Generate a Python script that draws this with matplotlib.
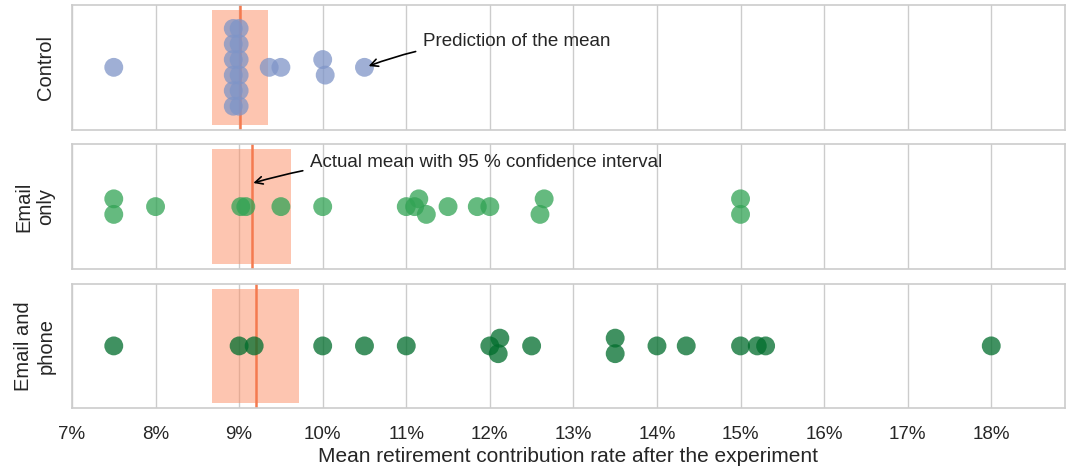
import numpy as np
import matplotlib
matplotlib.use("Agg")
import matplotlib.pyplot as plt
import seaborn as sns
from matplotlib.ticker import FuncFormatter

# --- data (percent) ---
groups = ["Control", "Email\nonly", "Email and\nphone"]

control = [7.5, 8.93, 8.93, 8.93, 8.93, 8.93, 8.93, 9.0, 9.0, 9.0, 9.0, 9.0, 9.0,
           9.36, 9.5, 10.0, 10.03, 10.5]
email_only = [7.5, 7.5, 8.0, 9.02, 9.08, 9.5, 10.0, 11.0, 11.1, 11.15, 11.24,
              11.5, 11.85, 12.0, 12.65, 12.6, 15.0, 15.0]
email_phone = [7.5, 9.0, 9.18, 10.0, 10.5, 11.0, 12.0, 12.12, 12.1, 12.5,
               13.5, 13.5, 14.0, 14.35, 15.0, 15.2, 15.3, 18.0]

means = [9.01, 9.15, 9.2]
ci_low = [8.68, 8.68, 8.68]
ci_high = [9.34, 9.62, 9.72]

point_colors = ["#7f95c8", "#31a354", "#006d2c"]
ci_color = "#fc8d62"
line_color = "#f47a4f"


def stacked_offsets(vals, bin_width=0.1, step=0.25):
    # points falling in the same bin are stacked vertically, centred on 0
    bins = np.round(np.asarray(vals) / bin_width).astype(int)
    offs = np.zeros(len(vals))
    for b in np.unique(bins):
        idx = np.where(bins == b)[0]
        n = len(idx)
        offs[idx] = (np.arange(n)[::-1] - (n - 1) / 2) * step
    return offs


sns.set_theme(style="whitegrid")
plt.rcParams["font.family"] = ["Liberation Sans", "DejaVu Sans"]

fig, axes = plt.subplots(3, 1, figsize=(10.68, 4.68), dpi=100, sharex=True)
fig.subplots_adjust(left=0.0674, right=0.997, top=0.989, bottom=0.128, hspace=0.12)

for ax, vals, name, c, m, lo, hi in zip(axes, [control, email_only, email_phone], groups,
                                       point_colors, means, ci_low, ci_high):
    ax.axvspan(lo, hi, ymin=0.04, ymax=0.96, color=ci_color, alpha=0.5, lw=0, zorder=1)
    ax.axvline(m, color=line_color, lw=1.8, zorder=2)
    ax.scatter(vals, stacked_offsets(vals), s=185, color=c, alpha=0.75,
               edgecolor="none", zorder=3)
    ax.set_ylim(-1, 1)
    ax.set_yticks([])
    ax.set_ylabel(name, fontsize=14.5, labelpad=12)
    ax.yaxis.grid(False)
    for sp in ax.spines.values():
        sp.set_color("#cccccc")
        sp.set_linewidth(1.2)

axes[-1].set_xlim(7, 18.88)
axes[-1].set_xticks(np.arange(7, 19, 1))
axes[-1].xaxis.set_major_formatter(FuncFormatter(lambda v, p: f"{v:.0f}%"))
axes[-1].tick_params(axis="x", labelsize=13.5, colors="#262626", pad=7)
axes[-1].set_xlabel("Mean retirement contribution rate after the experiment",
                    fontsize=15, labelpad=3, color="#262626")

axes[0].annotate("Prediction of the mean", xy=(10.55, 0.51), xytext=(11.2, 0.71),
                 xycoords=("data", "axes fraction"), textcoords=("data", "axes fraction"),
                 fontsize=13.5, va="center", color="#262626",
                 arrowprops=dict(arrowstyle="->", color="black", lw=1.2,
                                 connectionstyle="arc3,rad=0.1", shrinkA=3, shrinkB=0))
axes[1].annotate("Actual mean with 95 % confidence interval", xy=(9.17, 0.69),
                 xytext=(9.85, 0.854),
                 xycoords=("data", "axes fraction"), textcoords=("data", "axes fraction"),
                 fontsize=13.5, va="center", color="#262626",
                 arrowprops=dict(arrowstyle="->", color="black", lw=1.2,
                                 connectionstyle="arc3,rad=0.1", shrinkA=3, shrinkB=0))

fig.savefig("out.png", dpi=100)
